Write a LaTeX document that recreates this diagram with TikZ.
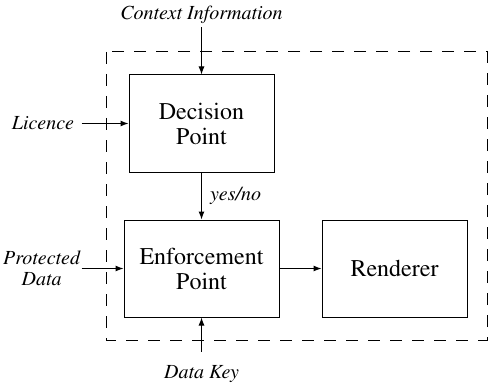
\documentclass[tikz,border=0pt]{standalone}
\usepackage[T1]{fontenc}
\usepackage{mathptmx}
\usetikzlibrary{positioning,arrows.meta}
\tikzstyle{block} = [rectangle, draw=black, line width=0.5pt, minimum height=48.5pt, align=center, font=\fontsize{12}{12.5}\selectfont]
\tikzstyle{inlabel} = [font=\fontsize{10}{10.5}\selectfont\itshape, align=center, inner sep=2pt]
\tikzstyle{connect} = [line width=0.5pt, -{Latex[length=4pt,width=3pt]}]
\tikzstyle{boundary} = [draw=black, line width=0.5pt, dash pattern=on 6pt off 5pt]

\begin{document}
\begin{tikzpicture}
	\useasboundingbox (-100.75pt,61.75pt) rectangle (144.25pt,-130.75pt);

	\node (dec) [block, minimum width=72.5pt] {Decision\\Point};
	\node (enf) [block, minimum width=77.5pt, below=23.5pt of dec] {Enforcement\\Point};
	\node (ren) [block, minimum width=72.5pt, right=21pt of enf] {Renderer};

	\node (ctx) [inlabel, above=23.5pt of dec] {Context Information};
	\node (lic) [inlabel, inner xsep=3.5pt, left=23.5pt of dec] {Licence};
	\node (pdata) [inlabel, inner xsep=0.5pt, left=21pt of enf] {Protected\\Data};
	\node (key) [inlabel, inner ysep=7pt, below=17pt of enf] {Data Key};

	% trusted boundary
	\draw [boundary] (-47.75pt,35.75pt) rectangle (142.75pt,-108.25pt);

	\draw [connect] (ctx) -- (dec);
	\draw [connect] (lic) -- (dec);
	\draw [connect] (dec) -- node [inlabel, right=2pt] {yes/no} (enf);
	\draw [connect] (pdata) -- (enf);
	\draw [connect] (key) -- (enf);
	\draw [connect] (enf) -- (ren);
\end{tikzpicture}
\end{document}
